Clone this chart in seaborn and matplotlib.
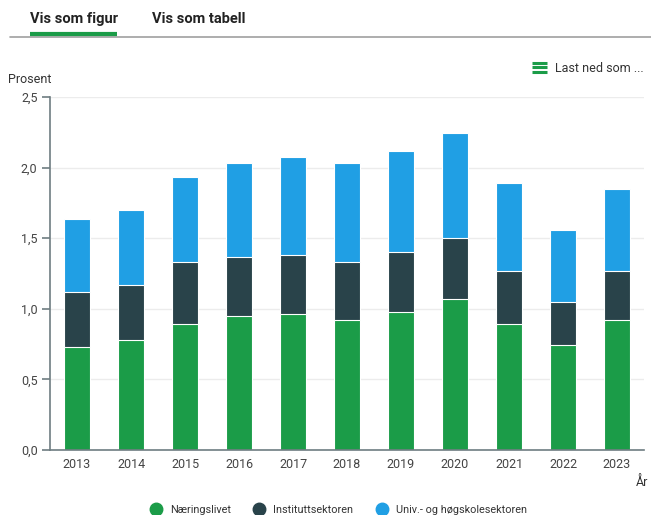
import numpy as np
import pandas as pd
import seaborn as sns
import matplotlib.pyplot as plt
from matplotlib.lines import Line2D
from matplotlib.ticker import FuncFormatter, MultipleLocator

# FoU-utgifter i prosent av BNP, per sektor
years = ['2013', '2014', '2015', '2016', '2017', '2018', '2019', '2020', '2021', '2022', '2023']
naeringslivet = [0.73, 0.78, 0.89, 0.95, 0.96, 0.92, 0.98, 1.07, 0.89, 0.745, 0.92]
instituttsektoren = [0.39, 0.39, 0.44, 0.42, 0.42, 0.41, 0.42, 0.43, 0.38, 0.305, 0.35]
univ_hogskole = [0.515, 0.53, 0.60, 0.66, 0.695, 0.70, 0.72, 0.745, 0.62, 0.51, 0.58]

sectors = ['Næringslivet', 'Instituttsektoren', 'Univ.- og høgskolesektoren']
colors = ['#1b9c48', '#29434a', '#209fe4']

df = pd.DataFrame({'År': years, sectors[0]: naeringslivet,
                   sectors[1]: instituttsektoren, sectors[2]: univ_hogskole})
# cumulative heights so the bars can be drawn on top of each other
cum = df[sectors].cumsum(axis=1)
cum['År'] = df['År']

sns.set_style('white')
plt.rcParams['font.family'] = ['Roboto', 'DejaVu Sans']

fig = plt.figure(figsize=(6.51, 5.15), dpi=100)
ax = fig.add_axes([50 / 651, 1 - 450 / 515, 594 / 651, 353 / 515])

# tallest first, then smaller stacks over it
for sector, color in zip(reversed(sectors), reversed(colors)):
    sns.barplot(data=cum, x='År', y=sector, color=color, width=0.48,
                edgecolor='white', linewidth=0.8, saturation=1, ax=ax)

ax.set_xlim(-0.5, len(years) - 0.5)
ax.set_ylim(0, 2.5)
ax.yaxis.set_major_locator(MultipleLocator(0.5))
ax.yaxis.set_major_formatter(FuncFormatter(lambda v, p: f'{v:.1f}'.replace('.', ',')))
ax.grid(axis='y', color='#ececec', linewidth=1)
ax.set_axisbelow(True)
ax.set_xlabel('')
ax.set_ylabel('')

for s in ['top', 'right']:
    ax.spines[s].set_visible(False)
ax.spines['left'].set_color('#6e7d82')
ax.spines['left'].set_linewidth(1.2)
ax.spines['bottom'].set_color('#6e7d82')
ax.spines['bottom'].set_linewidth(1.2)

ax.set_xticks(np.arange(-0.5, len(years)), minor=True)
ax.tick_params(axis='x', which='major', length=0, pad=6, labelsize=9, labelcolor='#444444')
ax.tick_params(axis='x', which='minor', length=7, width=1.2, color='#6e7d82', direction='out')
ax.tick_params(axis='y', which='major', length=6, width=1.2, color='#6e7d82', left=True,
               labelsize=9, labelcolor='#444444', pad=3)

# axis titles
fig.text(8 / 651, 1 - 79 / 515, 'Prosent', fontsize=9, color='#333333', va='center')
fig.text(648 / 651, 1 - 482 / 515, 'År', fontsize=9, color='#333333', va='center', ha='right')

# tabs on top
fig.text(30 / 651, 1 - 19 / 515, 'Vis som figur', fontsize=10.5, fontweight='bold',
         color='#222222', va='center')
fig.text(152 / 651, 1 - 19 / 515, 'Vis som tabell', fontsize=10.5, fontweight='bold',
         color='#222222', va='center')
fig.add_artist(Line2D([10 / 651, 1], [1 - 36.5 / 515] * 2, color='#a0a0a0', lw=1.2))
fig.add_artist(Line2D([30 / 651, 117 / 651], [1 - 34 / 515] * 2, color='#1b9c48', lw=3,
                      solid_capstyle='butt'))

# download menu
for yy in [63, 67.5, 72]:
    fig.add_artist(Line2D([532 / 651, 547 / 651], [1 - yy / 515] * 2, color='#1b9c48', lw=2.2,
                          solid_capstyle='butt'))
fig.text(555 / 651, 1 - 69 / 515, 'Last ned som ...', fontsize=9, color='#333333', va='center')

# legend
handles = [Line2D([], [], marker='o', linestyle='', markersize=9, color=c) for c in colors]
fig.legend(handles, sectors, loc='center', bbox_to_anchor=(336 / 651, 1 - 510 / 515), ncol=3,
           frameon=False, fontsize=7.8, handletextpad=0.3, columnspacing=1.6,
           labelcolor='#333333')

fig.savefig('out.png', dpi=100)
